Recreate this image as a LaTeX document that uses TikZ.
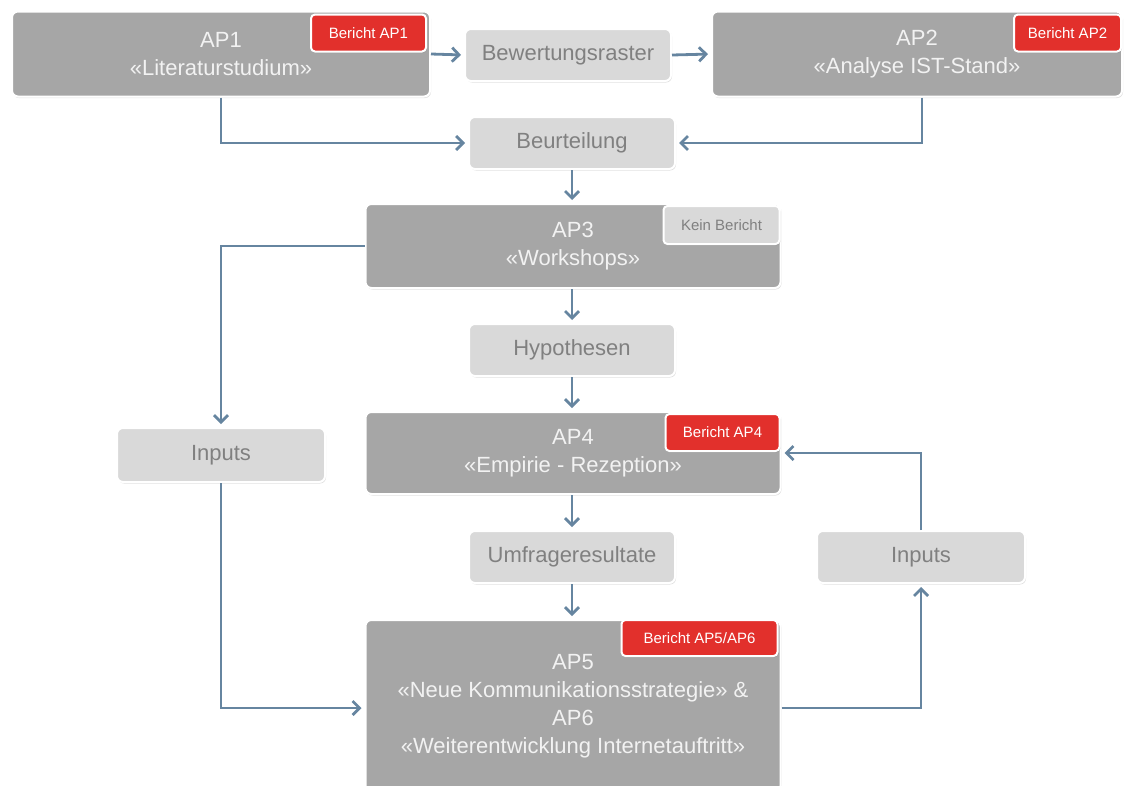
\documentclass[tikz,border=0pt]{standalone}
\usepackage{fontspec}
\setmainfont{Liberation Sans}
\usetikzlibrary{arrows.meta,shadows}

\definecolor{apgray}{HTML}{A6A6A6}
\definecolor{resgray}{HTML}{D9D9D9}
\definecolor{restext}{HTML}{808080}
\definecolor{badgered}{HTML}{E2302C}
\definecolor{flowblue}{HTML}{6685A0}

\begin{document}
\begin{tikzpicture}[x=1pt, y=-1pt,
    box/.style={rounded corners=6pt, draw=white, line width=2pt,
        drop shadow={shadow xshift=1pt, shadow yshift=-1.5pt, opacity=0.25},
        align=center, inner sep=0pt},
    ap/.style={box, fill=apgray, text=white!95!black,
        font=\fontsize{22}{28}\selectfont},
    result/.style={box, fill=resgray, text=restext,
        font=\fontsize{22}{26}\selectfont, minimum width=206pt, minimum height=52pt},
    badge/.style={box, rounded corners=4pt, fill=badgered, text=white,
        font=\fontsize{15}{17}\selectfont, minimum height=37pt},
    flow/.style={draw=flowblue, line width=2.8pt,
        -{Straight Barb[length=7pt, width=14pt, line width=2.8pt]}, shorten >=3pt}]

    \useasboundingbox (0,0) rectangle (1126,785);

    % Arbeitspakete
    \node[ap, minimum width=418pt, minimum height=85pt] (ap1) at (221,54)
        {AP1\\«Literaturstudium»};
    \node[ap, minimum width=410pt, minimum height=85pt] (ap2) at (917,54)
        {AP2\\«Analyse IST-Stand»};
    \node[ap, minimum width=415pt, minimum height=84pt] (ap3) at (573,246)
        {AP3\\«Workshops»};
    \node[ap, minimum width=415pt, minimum height=82pt] (ap4) at (573,453)
        {AP4\\«Empirie - Rezeption»};
    \node[ap, minimum width=415pt, minimum height=172pt] (ap5) at (573,706)
        {AP5\\«Neue Kommunikationsstrategie» \&\\AP6\\«Weiterentwicklung Internetauftritt»};

    % Zwischenresultate
    \node[result] (raster) at (568,55) {Bewertungsraster};
    \node[result] (beurt) at (572,143) {Beurteilung};
    \node[result] (hypo) at (572,350) {Hypothesen};
    \node[result] (umfrage) at (572,557) {Umfrageresultate};
    \node[result, minimum width=208pt, minimum height=54pt] (inL) at (221,455) {Inputs};
    \node[result, minimum width=208pt] (inR) at (921,557) {Inputs};

    % Berichte
    \node[badge, minimum width=115pt, anchor=north east] (b1) at ([xshift=-4pt, yshift=-3pt]ap1.north east) {Bericht AP1};
    \node[badge, minimum width=107pt, anchor=north east] (b2) at ([xshift=-1pt, yshift=-3pt]ap2.north east) {Bericht AP2};
    \node[badge, fill=resgray, text=restext, minimum width=116pt, minimum height=38pt, anchor=north east] (b3) at ([xshift=-1pt, yshift=-2pt]ap3.north east) {Kein Bericht};
    \node[badge, minimum width=114pt, anchor=north east] (b4) at ([xshift=-1pt, yshift=-2pt]ap4.north east) {Bericht AP4};
    \node[badge, minimum width=156pt, minimum height=36pt, anchor=north east] (b5) at ([xshift=-3pt, yshift=0pt]ap5.north east) {Bericht AP5/AP6};

    % Verbindungen
    \draw[flow] (ap1.east) -- (raster.west);
    \draw[flow] (raster.east) -- (ap2.west);
    \draw[flow] (ap1.south) |- (beurt.west);
    \draw[flow] ([xshift=5pt]ap2.south) |- (beurt.east);
    \draw[flow] (beurt.south) -- (ap3.north -| beurt.south);
    \draw[flow] (ap3.south -| hypo.north) -- (hypo.north);
    \draw[flow] (hypo.south) -- (ap4.north -| hypo.south);
    \draw[flow] (ap3.west) -| (inL.north);
    \draw[flow] (ap4.south -| umfrage.north) -- (umfrage.north);
    \draw[flow] (umfrage.south) -- (ap5.north -| umfrage.south);
    \draw[flow] (inL.south) |- ([yshift=-2pt]ap5.west);
    \draw[flow] ([yshift=-2pt]ap5.east) -| (inR.south);
    \draw[flow] (inR.north) |- (ap4.east);
\end{tikzpicture}
\end{document}
